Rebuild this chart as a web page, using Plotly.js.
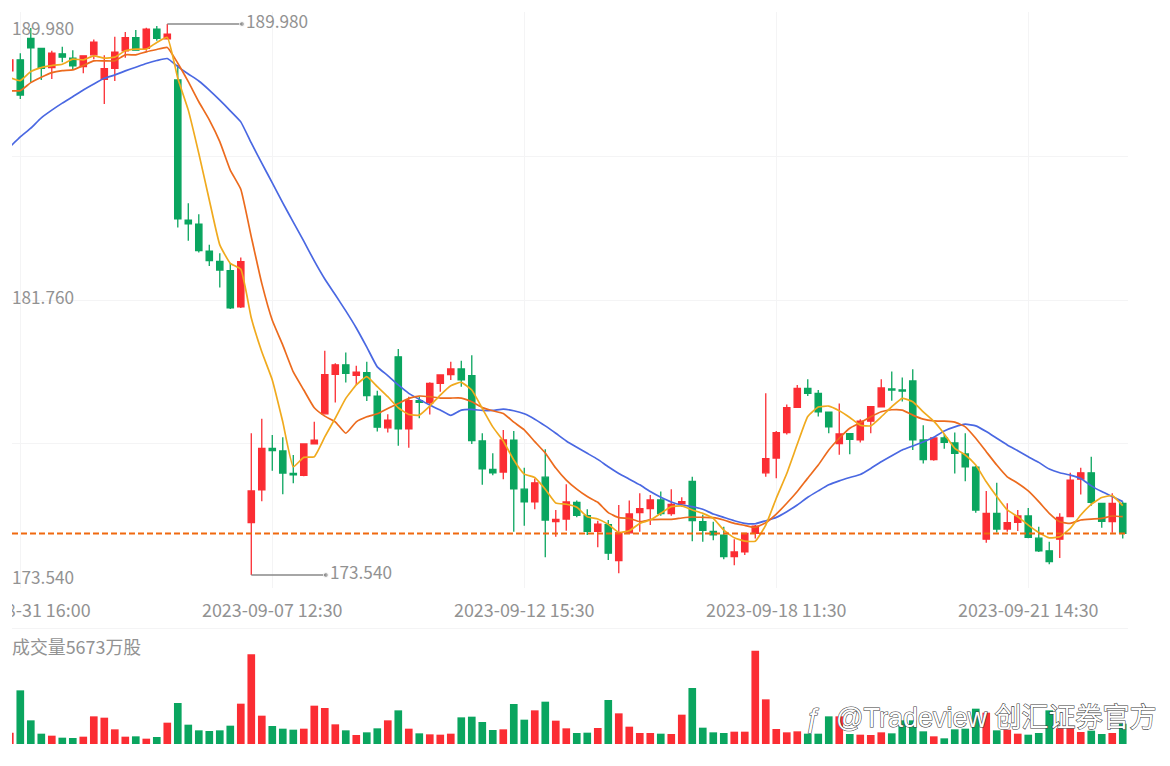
<!DOCTYPE html>
<html><head><meta charset="utf-8">
<script src="https://cdn.plot.ly/plotly-3.0.1.min.js"></script>
<style>
html,body{margin:0;padding:0;background:#fff;overflow:hidden;width:1170px;height:766px}
#chart{position:absolute;left:12px;top:0;width:1158px;height:766px}
</style></head><body><div id="chart"></div>
<script>
const openP=[188.58,188.91,189.55,189.25,188.68,189.09,188.96,188.71,189.06,188.33,188.66,189.18,189.57,189.25,189.83,189.54,188.31,184.13,184.01,183.20,182.90,182.62,181.54,175.10,176.08,177.32,177.24,176.57,176.51,177.45,178.35,179.53,179.81,179.50,179.58,178.88,177.93,180.05,177.90,178.74,178.68,179.26,179.52,179.69,179.49,177.54,176.69,176.61,177.56,176.10,175.72,176.46,175.13,175.21,175.71,175.31,174.84,175.04,173.97,174.80,175.40,175.52,175.78,175.37,175.66,176.33,175.13,174.84,174.73,174.09,174.23,174.78,176.59,177.03,177.79,178.54,179.11,178.96,178.40,177.46,177.76,177.57,178.13,178.56,179.09,179.06,179.33,177.57,176.98,177.63,177.48,177.15,176.76,174.61,175.38,174.91,175.11,175.30,174.64,174.26,174.61,175.28,176.40,176.59,175.68,175.13,175.68];
const highP=[188.97,189.11,189.86,189.26,189.18,189.30,189.20,189.05,189.52,189.05,189.60,189.74,189.80,189.87,189.92,189.98,188.76,184.63,184.30,183.39,183.14,182.85,183.01,177.77,178.20,177.72,177.65,177.12,177.45,178.11,180.23,179.86,180.18,179.78,179.90,179.04,178.34,180.28,178.86,178.86,179.29,179.53,179.90,179.93,180.10,177.77,177.17,177.87,177.84,176.74,176.42,177.29,175.48,176.25,175.76,175.50,175.16,175.18,175.63,175.76,175.98,175.93,176.03,176.10,175.86,176.47,175.34,175.13,174.98,174.61,174.78,175.03,178.96,177.84,178.63,179.21,179.38,179.06,178.40,178.66,177.76,178.19,178.56,179.38,179.61,179.43,179.68,178.01,177.63,177.75,177.79,177.77,176.79,176.05,176.29,175.68,175.48,175.54,174.98,174.53,175.38,176.59,176.74,177.07,175.68,175.98,175.73];
const lowP=[188.52,187.74,188.25,188.31,188.34,188.84,188.63,188.51,188.93,187.59,188.28,188.97,189.18,189.18,189.48,189.52,183.91,183.51,183.16,182.76,182.12,181.48,181.51,173.54,175.74,176.65,175.95,176.28,176.49,177.45,178.35,178.69,179.28,179.21,178.73,177.82,177.79,177.40,177.34,178.22,178.33,179.01,179.36,179.16,177.45,176.23,176.52,176.40,174.83,175.01,175.50,174.07,174.68,174.86,175.26,174.73,174.37,173.99,173.59,174.78,174.83,175.03,175.31,175.31,175.58,174.55,174.53,174.58,174.01,173.83,174.14,174.63,176.47,176.43,177.73,178.54,178.88,178.27,177.77,177.13,177.14,177.49,177.77,178.56,178.74,178.72,177.27,176.87,176.95,177.31,176.57,176.34,175.40,174.50,174.81,174.83,174.85,174.64,174.23,173.86,174.05,175.28,175.94,175.61,174.95,174.80,174.63];
const closeP=[188.91,187.86,189.27,188.66,189.11,188.99,188.73,189.03,189.44,188.65,189.14,189.57,189.20,189.83,189.55,189.68,184.17,184.02,183.22,182.92,182.64,181.51,182.89,176.05,177.32,177.25,176.58,176.53,177.45,177.56,179.52,179.81,179.56,179.59,178.89,177.95,178.16,177.90,178.74,178.69,179.26,179.51,179.69,179.36,177.55,176.71,176.59,177.57,176.11,175.72,176.29,175.18,175.20,175.72,175.32,174.84,175.06,174.19,174.80,175.36,175.52,175.78,175.37,175.65,175.73,175.16,174.87,174.74,174.09,174.23,174.78,175.00,177.01,177.79,178.53,179.11,178.96,178.41,177.96,177.75,177.59,178.13,178.56,179.12,179.06,179.03,177.57,176.98,177.63,177.50,177.17,176.77,175.48,175.38,174.91,175.10,175.30,174.66,174.26,173.94,175.26,176.37,176.59,175.71,175.14,175.68,174.78];
const ma5=[188.38,188.29,188.56,188.68,188.74,188.78,188.93,188.91,189.03,188.96,188.99,189.18,189.23,189.23,189.43,189.58,188.36,187.41,186.12,184.73,183.39,182.84,182.66,181.21,180.20,179.36,178.11,176.77,177.05,177.07,177.66,178.22,178.81,179.21,179.46,179.16,178.86,178.53,178.33,178.31,178.58,178.91,179.19,179.29,179.06,178.51,177.96,177.54,176.97,176.55,176.45,176.10,175.69,175.65,175.56,175.28,175.21,175.05,174.81,174.86,175.08,175.18,175.38,175.58,175.60,175.48,175.38,175.23,174.88,174.65,174.55,174.55,175.03,175.83,176.57,177.44,178.27,178.55,178.58,178.44,178.24,178.01,177.99,178.26,178.56,178.81,178.71,178.41,178.13,177.75,177.32,177.12,176.82,176.32,175.88,175.48,175.28,175.03,174.81,174.65,174.68,174.93,175.33,175.65,175.85,175.91,175.61];
const ma10=[187.99,187.99,188.23,188.39,188.53,188.59,188.61,188.74,188.88,188.88,188.88,189.06,189.06,189.15,189.22,189.28,188.81,188.26,187.66,187.12,186.47,185.62,185.05,183.63,182.24,181.14,180.40,179.60,179.06,178.53,178.28,178.11,177.77,178.11,178.26,178.35,178.51,178.66,178.81,178.88,178.86,178.82,178.82,178.82,178.71,178.54,178.44,178.36,178.10,177.87,177.52,177.18,176.73,176.37,176.10,175.88,175.71,175.40,175.25,175.23,175.13,175.19,175.20,175.20,175.24,175.27,175.26,175.25,175.18,175.08,175.02,174.96,175.10,175.36,175.68,176.03,176.43,176.82,177.27,177.62,177.92,178.08,178.26,178.41,178.47,178.46,178.31,178.19,178.14,178.13,178.10,177.96,177.62,177.22,176.82,176.47,176.28,176.05,175.73,175.38,175.13,175.08,175.18,175.21,175.23,175.30,175.28];
const ma20=[186.31,186.61,186.87,187.18,187.41,187.62,187.81,188.01,188.19,188.36,188.46,188.58,188.69,188.80,188.89,188.95,188.71,188.49,188.28,188.01,187.71,187.39,187.06,186.43,185.83,185.24,184.64,184.07,183.50,182.91,182.37,181.90,181.42,180.91,180.34,179.75,179.49,179.21,178.96,178.78,178.61,178.46,178.30,178.46,178.48,178.45,178.45,178.49,178.44,178.35,178.19,177.99,177.77,177.54,177.35,177.17,176.99,176.77,176.57,176.40,176.23,176.03,175.86,175.72,175.63,175.58,175.50,175.36,175.26,175.16,175.08,175.07,175.16,175.26,175.43,175.63,175.86,176.05,176.23,176.35,176.45,176.54,176.72,176.92,177.10,177.27,177.39,177.51,177.65,177.84,177.96,178.04,177.99,177.82,177.62,177.42,177.25,177.07,176.90,176.70,176.59,176.52,176.42,176.20,176.03,175.88,175.73];
const volume=[3162,14973,6603,2883,2325,1767,1674,2046,7719,7347,4092,2046,2139,1488,1953,5952,11439,5394,3813,3627,3813,5115,11253,25017,7905,5022,4278,3999,4278,10695,10044,5487,3813,2511,3255,4371,6603,9393,4278,2976,2697,2604,2883,7440,7626,6138,3906,4092,11160,6789,9393,11811,6510,4371,3069,3162,4464,12276,8556,4836,3069,3069,2883,2790,8184,15624,4557,3255,3069,3441,3441,26040,12462,4185,3255,3534,2883,2883,7719,7719,2790,2604,2511,3255,2976,6603,6603,3534,2139,1581,4092,4278,9858,8742,3813,3999,2883,2604,3069,9393,4371,4371,3348,3720,2790,3069,5673];
const tickIndex=[1,25,49,73,97];
const tickLabels=["2023-08-31 16:00","2023-09-07 12:30","2023-09-12 15:30","2023-09-18 11:30","2023-09-21 14:30"];
const priceGrid=[190.338,186.04,181.745,177.45,173.152];
const maxPrice=189.98, midPrice=181.76, minPrice=173.54, lastPrice=174.78;
const maxIndex=15, minIndex=23;
const volumeTitle="成交量5673万股";
const watermark="ƒ\u00a0\u00a0@Tradeview 创汇证券官方";

const RED="#fb2d33",GREEN="#0aa55f",TXT="#929292",GRID="#f4f4f5";
const FONT='"Noto Sans CJK SC","Noto Sans",sans-serif';
const xs=closeP.map((_,i)=>i);
const xRange=[0.21,106.5];
const lineStyle=c=>({color:c,width:1.7,shape:"spline",smoothing:0.4});
const traces=[
 {type:"candlestick",x:xs,open:openP,high:highP,low:lowP,close:closeP,xaxis:"x",yaxis:"y",hoverinfo:"skip",whiskerwidth:0,
  increasing:{line:{color:RED,width:1.3},fillcolor:RED},decreasing:{line:{color:GREEN,width:1.3},fillcolor:GREEN}},
 {type:"scatter",mode:"lines",x:xs,y:ma20,line:lineStyle("#4a68e2"),hoverinfo:"skip"},
 {type:"scatter",mode:"lines",x:xs,y:ma10,line:lineStyle("#ec6b1e"),hoverinfo:"skip"},
 {type:"scatter",mode:"lines",x:xs,y:ma5,line:lineStyle("#f0aa1e"),hoverinfo:"skip"},
 {type:"scatter",mode:"lines+markers+text",x:[maxIndex,22.11],y:[maxPrice,maxPrice],line:{color:"#888",width:1.4},
  marker:{size:[0,5],color:"#888"},text:["",maxPrice.toFixed(3)],textposition:"middle right",textfont:{color:TXT,size:17.2,family:FONT},hoverinfo:"skip",cliponaxis:false},
 {type:"scatter",mode:"lines+markers+text",x:[minIndex,30.1],y:[minPrice,minPrice],line:{color:"#888",width:1.4},
  marker:{size:[0,5],color:"#888"},text:["",minPrice.toFixed(3)],textposition:"middle right",textfont:{color:TXT,size:17.2,family:FONT},hoverinfo:"skip",cliponaxis:false},
 {type:"bar",x:xs,y:volume,xaxis:"x2",yaxis:"y2",width:0.73,hoverinfo:"skip",
  marker:{color:volume.map((_,i)=>closeP[i]>=openP[i]?RED:GREEN),line:{width:0}}}
];
const yLabel=(v,shift)=>({xref:"paper",yref:"y",x:0,y:v,yshift:shift,xanchor:"left",yanchor:"middle",showarrow:false,xshift:-2,
  text:v.toFixed(3),font:{color:TXT,size:17.2,family:FONT}});
const layout={
 width:1158,height:766,paper_bgcolor:"#fff",plot_bgcolor:"rgba(0,0,0,0)",showlegend:false,
 margin:{l:0,r:42,t:12,b:22},font:{family:FONT,color:TXT},bargap:0.27,boxmode:"overlay",boxgap:0.4,boxgroupgap:0,
 xaxis:{domain:[0,1],range:xRange,type:"linear",anchor:"y",tickmode:"array",tickvals:tickIndex,ticktext:tickLabels,
  showgrid:true,gridcolor:GRID,gridwidth:1,zeroline:false,showline:false,ticks:"",rangeslider:{visible:false},
  tickfont:{color:TXT,size:17.9,family:FONT},ticklabelstandoff:10,ticklabeloverflow:"allow"},
 yaxis:{domain:[0.2131,1],range:[173.152,190.338],tickmode:"array",tickvals:priceGrid,showticklabels:false,
  showgrid:true,gridcolor:GRID,gridwidth:1,zeroline:false,showline:false,ticks:""},
 xaxis2:{domain:[0,1],range:xRange,type:"linear",anchor:"y2",side:"top",showgrid:false,zeroline:false,showticklabels:false,ticks:"",
  showline:true,linecolor:GRID,linewidth:1},
 yaxis2:{domain:[0,0.1571],range:[0,32090],showgrid:false,zeroline:false,showticklabels:false,ticks:"",showline:false},
 shapes:[{type:"line",xref:"paper",yref:"y",x0:0,x1:1,y0:lastPrice,y1:lastPrice,layer:"above",line:{color:"#f0690f",width:1.9,dash:"6px,3px"}}],
 annotations:[
  yLabel(maxPrice,-3),yLabel(midPrice,3),yLabel(minPrice,-1),
  {xref:"paper",yref:"paper",x:0,y:(744-646)/732,xanchor:"left",yanchor:"middle",showarrow:false,xshift:-2,text:volumeTitle,font:{color:TXT,size:17.9,family:FONT}},
  {xref:"paper",yref:"paper",x:(1158-12)/1116,y:(744-718)/732,xanchor:"right",yanchor:"middle",showarrow:false,text:watermark,font:{color:"#ffffff",size:27,family:'"Liberation Sans","Noto Sans CJK SC",sans-serif'}}
 ]
};
Plotly.newPlot("chart",traces,layout,{displayModeBar:false,staticPlot:true}).then(()=>{
 document.querySelectorAll(".annotation-text").forEach(t=>{
  if(t.textContent.indexOf("Tradeview")>=0){
   t.style.setProperty("fill","#ffffff","important");
   t.style.stroke="#3a3a3a";
   t.style.strokeWidth="1.1px";
   t.style.paintOrder="stroke";
  }
 });
});
</script></body></html>
